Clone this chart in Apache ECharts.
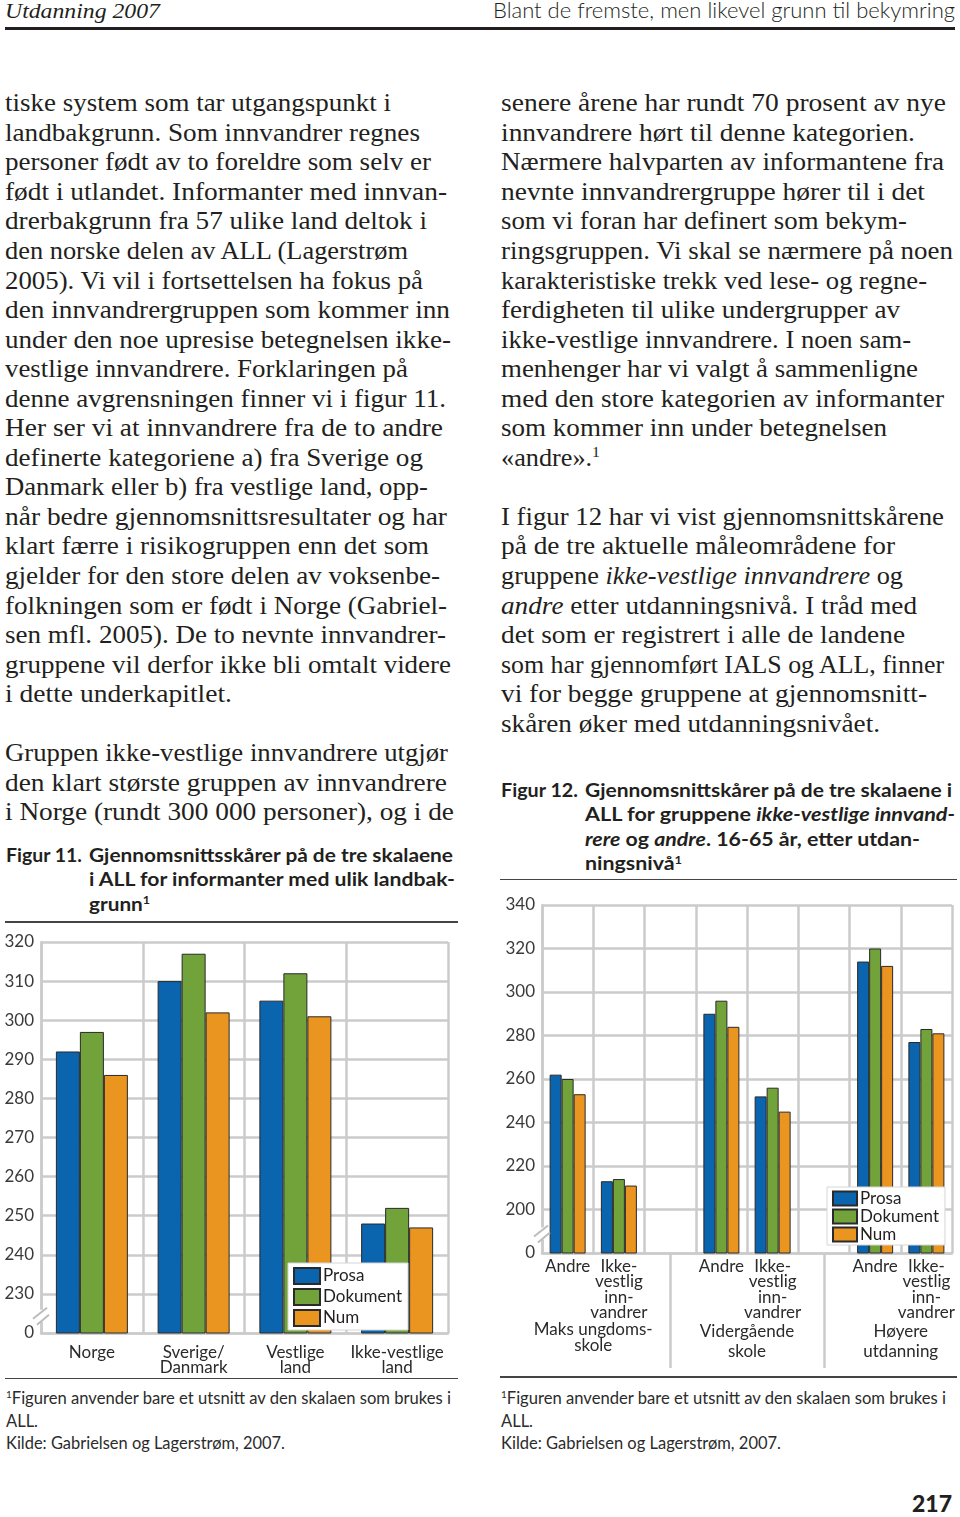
<!DOCTYPE html>
<html>
<head>
<meta charset="utf-8">
<script src="https://cdn.jsdelivr.net/npm/echarts/dist/echarts.min.js"></script>
<style>
  html, body { margin: 0; padding: 0; background: #fff; }
  #page { position: relative; width: 960px; height: 1517px; overflow: hidden; background: #fff; }
  .ln { position: absolute; white-space: nowrap; transform-origin: 0 50%; color: #231f20; }
  .body { font-family: "Liberation Serif", serif; font-size: 25px; line-height: 30px; }
  .fig { font-family: "Lato", sans-serif; font-weight: 700; font-size: 18px; line-height: 24px; }
  .note { font-family: "Lato", sans-serif; font-weight: 400; font-size: 16.5px; line-height: 22px; color: #2b2b2b; }
  .hdl { font-family: "Liberation Serif", serif; font-style: italic; font-size: 22px; line-height: 24px; }
  .hdr { font-family: "Lato", sans-serif; font-weight: 300; font-size: 22px; line-height: 24px; }
  .pg { font-family: "Lato", sans-serif; font-weight: 900; font-size: 23px; line-height: 26px; }
  .sup { font-size: 0.6em; position: relative; top: -0.6em; }
  .rule { position: absolute; background: #231f20; }
  .chart { position: absolute; }
</style>
</head>
<body>
<div id="page">
  <div class="rule" style="left:5px;top:27px;width:950px;height:3px;"></div>
  <div class="rule" style="left:5px;top:921px;width:453px;height:1.5px;background:#444;"></div>
  <div class="rule" style="left:5px;top:1377.5px;width:453px;height:1.5px;background:#444;"></div>
  <div class="rule" style="left:500px;top:878.5px;width:457px;height:1.5px;background:#444;"></div>
  <div class="rule" style="left:500px;top:1376px;width:457px;height:1.5px;background:#444;"></div>
  <div id="chart11" class="chart" style="left:0px;top:925px;width:470px;height:455px;"></div>
  <div id="chart12" class="chart" style="left:490px;top:882px;width:470px;height:494px;"></div>
</div>
<script>
// ---------------- DATA ----------------
const seriesNames = ['Prosa', 'Dokument', 'Num'];

// Figur 11
const fig11Categories = ['Norge', 'Sverige/\nDanmark', 'Vestlige\nland', 'Ikke-vestlige\nland'];
const fig11Prosa    = [292, 310, 305, 248];
const fig11Dokument = [297, 317, 312, 252];
const fig11Num      = [286, 302, 301, 247];
const fig11AxisMin = 220, fig11AxisMax = 320, fig11AxisStep = 10;
const fig11BreakLabel = '0';

// Figur 12
const fig12Categories = ['Andre', 'Ikke-\nvestlig\ninn-\nvandrer', '', 'Andre', 'Ikke-\nvestlig\ninn-\nvandrer', '', 'Andre', 'Ikke-\nvestlig\ninn-\nvandrer'];
const fig12Groups = ['Maks ungdoms-\nskole', 'Vidergående\nskole', 'Høyere\nutdanning'];
const fig12Prosa    = [262, 213, null, 290, 252, null, 314, 277];
const fig12Dokument = [260, 214, null, 296, 256, null, 320, 283];
const fig12Num      = [253, 211, null, 284, 245, null, 312, 281];
const fig12AxisMin = 180, fig12AxisMax = 340, fig12AxisStep = 20;
const fig12BreakLabel = '0';

// ---------------- STYLE ----------------
const seriesColors = ['#0a64ae', '#72a23a', '#e99520'];
const gridColor = '#cbcbcb';
const gridWidth = 2.5;
const labelColor = '#2b2b2b';
const FONT = 'Lato';

// ---------------- PAGE TEXT ----------------
const page = document.getElementById('page');
const cv = document.createElement('canvas').getContext('2d');
function put(cls, x, base, html, right) {
  const d = document.createElement('div');
  d.className = 'ln ' + cls;
  d.innerHTML = html;
  page.appendChild(d);
  const cs = getComputedStyle(d);
  cv.font = cs.fontStyle + ' ' + cs.fontWeight + ' ' + cs.fontSize + ' ' + cs.fontFamily;
  const m = cv.measureText('Hg');
  const asc = m.fontBoundingBoxAscent, desc = m.fontBoundingBoxDescent;
  const L = parseFloat(cs.lineHeight);
  d.style.left = x + 'px';
  d.style.top = (base - asc - (L - asc - desc) / 2) + 'px';
  if (right) {
    const w = d.getBoundingClientRect().width;
    if (w > 0) d.style.transform = 'scaleX(' + ((right - x) / w) + ')';
  }
}

put('hdl', 5, 18, 'Utdanning 2007', 160);
put('hdr', 493, 18, 'Blant de fremste, men likevel grunn til bekymring', 955);

const BASE0 = 111.7, PITCH = 29.55;
const leftCol = [
  [0, 'tiske system som tar utgangspunkt i', 391],
  [1, 'landbakgrunn. Som innvandrer regnes', 420],
  [2, 'personer født av to foreldre som selv er', 431],
  [3, 'født i utlandet. Informanter med innvan-', 447],
  [4, 'drerbakgrunn fra 57 ulike land deltok i', 427],
  [5, 'den norske delen av ALL (Lagerstrøm', 408],
  [6, '2005). Vi vil i fortsettelsen ha fokus på', 423],
  [7, 'den innvandrergruppen som kommer inn', 450],
  [8, 'under den noe upresise betegnelsen ikke-', 451],
  [9, 'vestlige innvandrere. Forklaringen på', 408],
  [10, 'denne avgrensningen finner vi i figur 11.', 446],
  [11, 'Her ser vi at innvandrere fra de to andre', 443],
  [12, 'definerte kategoriene a) fra Sverige og', 423],
  [13, 'Danmark eller b) fra vestlige land, opp-', 428],
  [14, 'når bedre gjennomsnittsresultater og har', 447],
  [15, 'klart færre i risikogruppen enn det som', 429],
  [16, 'gjelder for den store delen av voksenbe-', 440],
  [17, 'folkningen som er født i Norge (Gabriel-', 447],
  [18, 'sen mfl. 2005). De to nevnte innvandrer-', 446],
  [19, 'gruppene vil derfor ikke bli omtalt videre', 451],
  [20, 'i dette underkapitlet.', 232],
  [22, 'Gruppen ikke-vestlige innvandrere utgjør', 448],
  [23, 'den klart største gruppen av innvandrere', 447],
  [24, 'i Norge (rundt 300 000 personer), og i de', 454]
];
const rightCol = [
  [0, 'senere årene har rundt 70 prosent av nye', 946],
  [1, 'innvandrere hørt til denne kategorien.', 915],
  [2, 'Nærmere halvparten av informantene fra', 944],
  [3, 'nevnte innvandrergruppe hører til i det', 925],
  [4, 'som vi foran har definert som bekym-', 907],
  [5, 'ringsgruppen. Vi skal se nærmere på noen', 953],
  [6, 'karakteristiske trekk ved lese- og regne-', 927],
  [7, 'ferdigheten til ulike undergrupper av', 900],
  [8, 'ikke-vestlige innvandrere. I noen sam-', 911],
  [9, 'menhenger har vi valgt å sammenligne', 918],
  [10, 'med den store kategorien av informanter', 944],
  [11, 'som kommer inn under betegnelsen', 887],
  [12, '«andre».<span class="sup">1</span>', 600],
  [14, 'I figur 12 har vi vist gjennomsnittskårene', 944],
  [15, 'på de tre aktuelle måleområdene for', 895],
  [16, 'gruppene <i>ikke-vestlige innvandrere</i> og', 903],
  [17, '<i>andre</i> etter utdanningsnivå. I tråd med', 917],
  [18, 'det som er registrert i alle de landene', 905],
  [19, 'som har gjennomført IALS og ALL, finner', 944],
  [20, 'vi for begge gruppene at gjennomsnitt-', 927],
  [21, 'skåren øker med utdanningsnivået.', 880]
];
leftCol.forEach(([i, t, r]) => put('body', 5, BASE0 + i * PITCH, t, r));
rightCol.forEach(([i, t, r]) => put('body', 501, BASE0 + i * PITCH, t, r));

// Figure titles
put('fig', 6, 861.7, 'Figur 11.', 82);
put('fig', 89, 861.7, 'Gjennomsnittsskårer på de tre skalaene', 453);
put('fig', 89, 886.2, 'i ALL for informanter med ulik landbak-', 455);
put('fig', 89, 910.5, 'grunn<span class="sup">1</span>', 150);

put('fig', 501, 796.7, 'Figur 12.', 578);
put('fig', 585, 796.7, 'Gjennomsnittskårer på de tre skalaene i', 952);
put('fig', 585, 821.2, 'ALL for gruppene <i>ikke-vestlige innvand-</i>', 955);
put('fig', 585, 845.6, '<i>rere</i> og <i>andre</i>. 16-65 år, etter utdan-', 920);
put('fig', 585, 870, 'ningsnivå<span class="sup">1</span>', 682);

// Footnotes
put('note', 6, 1404.3, '<span class="sup">1</span>Figuren anvender bare et utsnitt av den skalaen som brukes i', 451);
put('note', 6, 1426.7, 'ALL.');
put('note', 6, 1449, 'Kilde: Gabrielsen og Lagerstrøm, 2007.', 285);
put('note', 501, 1404.3, '<span class="sup">1</span>Figuren anvender bare et utsnitt av den skalaen som brukes i', 946);
put('note', 501, 1426.7, 'ALL.');
put('note', 501, 1449, 'Kilde: Gabrielsen og Lagerstrøm, 2007.', 781);

put('pg', 912, 1511.7, '217', 952);

// ---------------- CHARTS ----------------
function barSeries(values, barWidth) {
  return seriesNames.map((name, i) => ({
    type: 'bar',
    name: name,
    data: values[i],
    barWidth: barWidth,
    barGap: '0%',
    z: 5,
    itemStyle: { color: seriesColors[i], borderColor: '#2a2a2a', borderWidth: 1 },
    emphasis: { disabled: true }
  }));
}
function valueAxis(min, max, step, breakLabel, fs) {
  return {
    type: 'value', min: min, max: max, interval: step,
    axisLine: { show: true, lineStyle: { color: gridColor, width: gridWidth } },
    axisTick: { show: false },
    splitLine: { show: true, lineStyle: { color: gridColor, width: gridWidth, type: 'solid' } },
    axisLabel: { fontFamily: FONT, fontSize: fs, color: '#3a3a3a', margin: 7,
      formatter: v => (v === min ? breakLabel : String(v)) }
  };
}
function legendOpt(left, top, iw, ih, gap, pad) {
  return {
    orient: 'vertical', left: left, top: top, padding: pad,
    itemWidth: iw, itemHeight: ih, itemGap: gap, icon: 'rect',
    backgroundColor: '#fff', borderColor: '#d6d6d6', borderWidth: 1,
    selectedMode: false, data: seriesNames, z: 10,
    textStyle: { fontFamily: FONT, fontSize: 17, color: '#231f20', padding: [0, 0, 0, -2] }
  };
}
// axis-break mark ("//") on the value axis, placed through the axis scale
function addBreak(chart, grid, breakValue) {
  const x0 = grid.left;
  const y = chart.convertToPixel({ yAxisIndex: 0 }, breakValue);
  chart.setOption({ graphic: [
    { type: 'rect', z: 100, shape: { x: x0 - 2, y: y - 6, width: 4, height: 12 }, style: { fill: '#fff' } },
    { type: 'line', z: 101, shape: { x1: x0 - 8, y1: y + 3, x2: x0 + 6, y2: y - 8 }, style: { stroke: '#bcbcbc', lineWidth: 2 } },
    { type: 'line', z: 101, shape: { x1: x0 - 4, y1: y + 9, x2: x0 + 8, y2: y - 1 }, style: { stroke: '#bcbcbc', lineWidth: 2 } }
  ] });
}

// Figur 11 chart
const c11 = echarts.init(document.getElementById('chart11'), null, { renderer: 'canvas' });
const g11 = { left: 41, right: 22, top: 17, bottom: 47 };
c11.setOption({
  animation: false,
  textStyle: { fontFamily: FONT },
  grid: g11,
  legend: legendOpt(288, 338, 26, 16, 3, [4, 6, 3, 5]),
  xAxis: {
    type: 'category', data: fig11Categories,
    axisLine: { show: true, lineStyle: { color: gridColor, width: gridWidth } },
    axisTick: { show: false },
    splitLine: { show: true, lineStyle: { color: gridColor, width: gridWidth } },
    axisLabel: { interval: 0, fontFamily: FONT, fontSize: 17, color: labelColor, lineHeight: 15, margin: 12 }
  },
  yAxis: valueAxis(fig11AxisMin, fig11AxisMax, fig11AxisStep, fig11BreakLabel, 17),
  series: barSeries([fig11Prosa, fig11Dokument, fig11Num], 24)
});
addBreak(c11, g11, fig11AxisMin + 4.4);

// Figur 12 chart
const fig12GroupSlots = [];
for (let k = 0; k <= fig12Categories.length * 2; k++) fig12GroupSlots.push('');
fig12Groups.forEach((g, gi) => { fig12GroupSlots[2 + gi * 6] = g; });

const c12 = echarts.init(document.getElementById('chart12'), null, { renderer: 'canvas' });
const g12 = { left: 52, right: 8, top: 23, bottom: 123 };
c12.setOption({
  animation: false,
  textStyle: { fontFamily: FONT },
  grid: g12,
  legend: legendOpt(337, 305, 24, 14, 1, [3, 6, 2, 5]),
  xAxis: [
    {
      type: 'category', data: fig12Categories, position: 'bottom',
      axisLine: { show: true, lineStyle: { color: gridColor, width: gridWidth } },
      axisTick: { show: false },
      splitLine: { show: true, interval: 0, lineStyle: { color: gridColor, width: gridWidth } },
      axisLabel: { interval: 0, fontFamily: FONT, fontSize: 17, color: labelColor, lineHeight: 15.3, margin: 6 }
    },
    {
      type: 'category', data: fig12GroupSlots, position: 'bottom', boundaryGap: false,
      axisLine: { show: false },
      axisTick: { show: true, interval: (i) => i === 5 || i === 11, length: 115,
        lineStyle: { color: gridColor, width: gridWidth } },
      splitLine: { show: false },
      axisLabel: {
        interval: (i) => fig12GroupSlots[i] !== '',
        margin: 69,
        formatter: (v, i) => {
          const st = v.indexOf('Maks') === 0 ? 'a' : 'b';
          return v.split('\n').map(s => '{' + st + '|' + s + '}').join('\n');
        },
        rich: {
          a: { fontFamily: FONT, fontSize: 17, lineHeight: 16, color: labelColor },
          b: { fontFamily: FONT, fontSize: 17, lineHeight: 20, color: labelColor }
        }
      }
    }
  ],
  yAxis: valueAxis(fig12AxisMin, fig12AxisMax, fig12AxisStep, fig12BreakLabel, 17),
  series: barSeries([fig12Prosa, fig12Dokument, fig12Num], 12)
});
addBreak(c12, g12, fig12AxisMin + 9);
</script>
</body>
</html>
